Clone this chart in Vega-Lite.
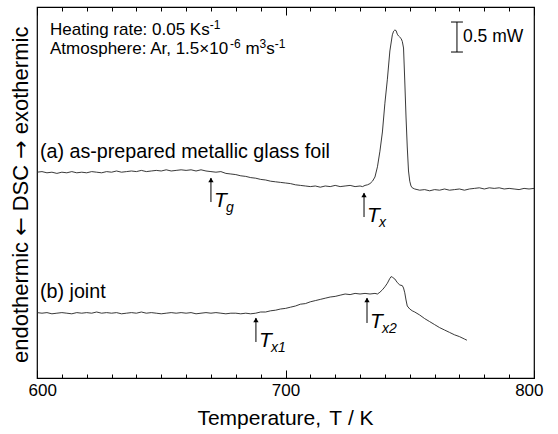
{
  "$schema": "https://vega.github.io/schema/vega-lite/v6.json",
  "width": 497,
  "height": 371,
  "autosize": {"type": "none"},
  "padding": {"left": 37, "top": 7, "right": 24, "bottom": 56},
  "background": "white",
  "config": {
    "font": "Liberation Sans",
    "view": {"stroke": "#000", "strokeWidth": 1.2},
    "axis": {"labelFont": "Liberation Sans", "titleFont": "Liberation Sans", "titleFontWeight": "normal", "labelColor": "#000", "titleColor": "#000", "tickColor": "#000", "tickWidth": 1}
  },
  "datasets": {
    "curves": [
      {"s":"a","T":600,"v":3.43},{"s":"a","T":602,"v":3.44},{"s":"a","T":604,"v":3.42},{"s":"a","T":606,"v":3.43},{"s":"a","T":608,"v":3.41},{"s":"a","T":610,"v":3.43},{"s":"a","T":612,"v":3.42},{"s":"a","T":614,"v":3.44},{"s":"a","T":616,"v":3.42},{"s":"a","T":618,"v":3.43},{"s":"a","T":620,"v":3.42},{"s":"a","T":622,"v":3.44},{"s":"a","T":624,"v":3.43},{"s":"a","T":626,"v":3.42},{"s":"a","T":628,"v":3.44},{"s":"a","T":630,"v":3.43},{"s":"a","T":632,"v":3.45},{"s":"a","T":634,"v":3.43},{"s":"a","T":636,"v":3.44},{"s":"a","T":638,"v":3.45},{"s":"a","T":640,"v":3.44},{"s":"a","T":642,"v":3.46},{"s":"a","T":644,"v":3.44},{"s":"a","T":646,"v":3.45},{"s":"a","T":648,"v":3.46},{"s":"a","T":650,"v":3.45},{"s":"a","T":652,"v":3.47},{"s":"a","T":654,"v":3.45},{"s":"a","T":656,"v":3.46},{"s":"a","T":658,"v":3.47},{"s":"a","T":660,"v":3.46},{"s":"a","T":662,"v":3.47},{"s":"a","T":664,"v":3.45},{"s":"a","T":666,"v":3.47},{"s":"a","T":668,"v":3.45},{"s":"a","T":670,"v":3.44},{"s":"a","T":672,"v":3.43},{"s":"a","T":674,"v":3.44},{"s":"a","T":676,"v":3.41},{"s":"a","T":678,"v":3.40},{"s":"a","T":680,"v":3.39},{"s":"a","T":682,"v":3.37},{"s":"a","T":684,"v":3.36},{"s":"a","T":686,"v":3.34},{"s":"a","T":688,"v":3.33},{"s":"a","T":690,"v":3.31},{"s":"a","T":692,"v":3.30},{"s":"a","T":694,"v":3.28},{"s":"a","T":696,"v":3.27},{"s":"a","T":698,"v":3.26},{"s":"a","T":700,"v":3.25},{"s":"a","T":702,"v":3.24},{"s":"a","T":704,"v":3.22},{"s":"a","T":706,"v":3.21},{"s":"a","T":708,"v":3.20},{"s":"a","T":710,"v":3.19},{"s":"a","T":712,"v":3.20},{"s":"a","T":714,"v":3.18},{"s":"a","T":716,"v":3.20},{"s":"a","T":718,"v":3.19},{"s":"a","T":720,"v":3.21},{"s":"a","T":722,"v":3.19},{"s":"a","T":724,"v":3.20},{"s":"a","T":726,"v":3.21},{"s":"a","T":728,"v":3.19},{"s":"a","T":730,"v":3.20},{"s":"a","T":731,"v":3.19},{"s":"a","T":732,"v":3.21},{"s":"a","T":733,"v":3.22},{"s":"a","T":734,"v":3.24},{"s":"a","T":735,"v":3.28},{"s":"a","T":736,"v":3.35},{"s":"a","T":737,"v":3.52},{"s":"a","T":738,"v":3.78},{"s":"a","T":739,"v":4.10},{"s":"a","T":740,"v":4.58},{"s":"a","T":741,"v":4.98},{"s":"a","T":742,"v":5.45},{"s":"a","T":743,"v":5.72},{"s":"a","T":743.5,"v":5.78},{"s":"a","T":744,"v":5.80},{"s":"a","T":744.5,"v":5.79},{"s":"a","T":745,"v":5.73},{"s":"a","T":745.5,"v":5.70},{"s":"a","T":746,"v":5.68},{"s":"a","T":746.5,"v":5.66},{"s":"a","T":747,"v":5.61},{"s":"a","T":747.5,"v":5.50},{"s":"a","T":748,"v":4.95},{"s":"a","T":748.5,"v":4.35},{"s":"a","T":749,"v":3.85},{"s":"a","T":749.5,"v":3.45},{"s":"a","T":750,"v":3.28},{"s":"a","T":750.5,"v":3.20},{"s":"a","T":751,"v":3.17},{"s":"a","T":752,"v":3.15},{"s":"a","T":754,"v":3.13},{"s":"a","T":756,"v":3.14},{"s":"a","T":758,"v":3.12},{"s":"a","T":760,"v":3.14},{"s":"a","T":762,"v":3.13},{"s":"a","T":764,"v":3.15},{"s":"a","T":766,"v":3.13},{"s":"a","T":768,"v":3.14},{"s":"a","T":770,"v":3.15},{"s":"a","T":772,"v":3.13},{"s":"a","T":774,"v":3.15},{"s":"a","T":776,"v":3.16},{"s":"a","T":778,"v":3.17},{"s":"a","T":780,"v":3.15},{"s":"a","T":782,"v":3.17},{"s":"a","T":784,"v":3.16},{"s":"a","T":786,"v":3.17},{"s":"a","T":788,"v":3.15},{"s":"a","T":790,"v":3.16},{"s":"a","T":792,"v":3.15},{"s":"a","T":794,"v":3.14},{"s":"a","T":796,"v":3.16},{"s":"a","T":798,"v":3.15},{"s":"a","T":800,"v":3.16},
      {"s":"b","T":600,"v":1.09},{"s":"b","T":602,"v":1.08},{"s":"b","T":604,"v":1.09},{"s":"b","T":606,"v":1.07},{"s":"b","T":608,"v":1.08},{"s":"b","T":610,"v":1.09},{"s":"b","T":612,"v":1.08},{"s":"b","T":614,"v":1.07},{"s":"b","T":616,"v":1.09},{"s":"b","T":618,"v":1.08},{"s":"b","T":620,"v":1.09},{"s":"b","T":622,"v":1.08},{"s":"b","T":624,"v":1.10},{"s":"b","T":626,"v":1.08},{"s":"b","T":628,"v":1.09},{"s":"b","T":630,"v":1.08},{"s":"b","T":632,"v":1.09},{"s":"b","T":634,"v":1.07},{"s":"b","T":636,"v":1.08},{"s":"b","T":638,"v":1.09},{"s":"b","T":640,"v":1.08},{"s":"b","T":642,"v":1.10},{"s":"b","T":644,"v":1.08},{"s":"b","T":646,"v":1.09},{"s":"b","T":648,"v":1.08},{"s":"b","T":650,"v":1.07},{"s":"b","T":652,"v":1.08},{"s":"b","T":654,"v":1.09},{"s":"b","T":656,"v":1.08},{"s":"b","T":658,"v":1.09},{"s":"b","T":660,"v":1.08},{"s":"b","T":662,"v":1.09},{"s":"b","T":664,"v":1.07},{"s":"b","T":666,"v":1.08},{"s":"b","T":668,"v":1.09},{"s":"b","T":670,"v":1.08},{"s":"b","T":672,"v":1.09},{"s":"b","T":674,"v":1.08},{"s":"b","T":676,"v":1.07},{"s":"b","T":678,"v":1.08},{"s":"b","T":680,"v":1.08},{"s":"b","T":682,"v":1.07},{"s":"b","T":684,"v":1.08},{"s":"b","T":686,"v":1.07},{"s":"b","T":688,"v":1.08},{"s":"b","T":690,"v":1.10},{"s":"b","T":692,"v":1.10},{"s":"b","T":694,"v":1.12},{"s":"b","T":696,"v":1.13},{"s":"b","T":698,"v":1.15},{"s":"b","T":700,"v":1.16},{"s":"b","T":702,"v":1.18},{"s":"b","T":704,"v":1.20},{"s":"b","T":706,"v":1.23},{"s":"b","T":708,"v":1.24},{"s":"b","T":710,"v":1.27},{"s":"b","T":712,"v":1.29},{"s":"b","T":714,"v":1.31},{"s":"b","T":716,"v":1.33},{"s":"b","T":718,"v":1.35},{"s":"b","T":720,"v":1.36},{"s":"b","T":722,"v":1.38},{"s":"b","T":724,"v":1.40},{"s":"b","T":726,"v":1.39},{"s":"b","T":728,"v":1.41},{"s":"b","T":730,"v":1.40},{"s":"b","T":732,"v":1.41},{"s":"b","T":734,"v":1.40},{"s":"b","T":736,"v":1.41},{"s":"b","T":737,"v":1.40},{"s":"b","T":738,"v":1.43},{"s":"b","T":739,"v":1.47},{"s":"b","T":740,"v":1.52},{"s":"b","T":741,"v":1.58},{"s":"b","T":742,"v":1.66},{"s":"b","T":742.5,"v":1.69},{"s":"b","T":743,"v":1.68},{"s":"b","T":744,"v":1.65},{"s":"b","T":745,"v":1.59},{"s":"b","T":746,"v":1.55},{"s":"b","T":747,"v":1.54},{"s":"b","T":747.5,"v":1.50},{"s":"b","T":748,"v":1.42},{"s":"b","T":748.5,"v":1.30},{"s":"b","T":749,"v":1.20},{"s":"b","T":750,"v":1.15},{"s":"b","T":751,"v":1.12},{"s":"b","T":752,"v":1.10},{"s":"b","T":754,"v":1.05},{"s":"b","T":756,"v":0.99},{"s":"b","T":758,"v":0.94},{"s":"b","T":760,"v":0.89},{"s":"b","T":762,"v":0.84},{"s":"b","T":764,"v":0.80},{"s":"b","T":766,"v":0.76},{"s":"b","T":768,"v":0.72},{"s":"b","T":770,"v":0.69},{"s":"b","T":772,"v":0.65},{"s":"b","T":773,"v":0.63}
    ],
    "arrows": [
      {"T":670.0,"top":3.333,"bottom":2.933,"sub":"g"},
      {"T":731.6,"top":3.083,"bottom":2.683,"sub":"x"},
      {"T":688.1,"top":1.0,"bottom":0.6,"sub":"x1"},
      {"T":732.8,"top":1.333,"bottom":0.917,"sub":"x2"}
    ],
    "header": [
      {"T":605.23,"v":5.717,"text":"Heating rate: 0.05 Ks"},
      {"T":605.23,"v":5.40,"text":"Atmosphere: Ar, 1.5×10"},
      {"T":683.86,"v":5.40,"text":"m"},
      {"T":692.28,"v":5.40,"text":"s"}
    ],
    "sups": [
      {"T":669.50,"v":5.817,"text":"-1"},
      {"T":677.67,"v":5.50,"text":"-6"},
      {"T":689.58,"v":5.50,"text":"3"},
      {"T":695.69,"v":5.50,"text":"-1"}
    ],
    "scaletext": [
      {"T":771.43,"v":5.683,"text":"0.5 mW"}
    ],
    "curvelabels": [
      {"T":601.2,"v":3.667,"text":"(a) as-prepared metallic glass foil"},
      {"T":601.2,"v":1.333,"text":"(b) joint"}
    ],
    "xtitle": [
      {"T":664.55,"v":-0.783,"text":"Temperature,","style":"normal"},
      {"T":717.63,"v":-0.783,"text":"T","style":"italic"},
      {"T":725.11,"v":-0.783,"text":"/ K","style":"normal"}
    ],
    "ytitle": [
      {"T":596.38,"v":0.25,"text":"endothermic"},
      {"T":596.38,"v":2.778,"text":"DSC"},
      {"T":596.38,"v":4.063,"text":"exothermic"}
    ],
    "yarrows": [
      {"T":596.38,"v":2.370,"text":"←"},
      {"T":596.38,"v":3.655,"text":"→"}
    ],
    "scalebar": [
      {"x":769.0,"x2":769.0,"y":5.933,"y2":5.433},
      {"x":766.6,"x2":771.4,"y":5.933,"y2":5.933},
      {"x":766.6,"x2":771.4,"y":5.433,"y2":5.433}
    ]
  },
  "resolve": {"axis": {"x": "independent", "y": "independent"}},
  "layer": [
    {
      "data": {"name": "curves"},
      "mark": {"type": "line", "color": "#222", "strokeWidth": 0.9},
      "encoding": {
        "x": {"field": "T", "type": "quantitative", "scale": {"domain": [600, 800], "nice": false, "zero": false},
          "axis": {"orient": "bottom", "values": [600,610,620,630,640,650,660,670,680,690,700,710,720,730,740,750,760,770,780,790,800],
            "labelExpr": "datum.value % 100 === 0 ? datum.label : ''", "format": "d",
            "tickSize": -4, "domain": false, "grid": false, "labelFontSize": 17, "labelPadding": 8, "labelFlush": true, "labelFlushOffset": 9,
            "title": null}},
        "y": {"field": "v", "type": "quantitative", "scale": {"domain": [0, 6.1833], "nice": false, "zero": false}, "axis": null},
        "detail": {"field": "s"}
      }
    },
    {
      "data": {"name": "arrows"},
      "mark": {"type": "rule", "color": "#000", "strokeWidth": 1},
      "encoding": {
        "x": {"field": "T", "type": "quantitative",
          "axis": {"orient": "top", "values": [600,610,620,630,640,650,660,670,680,690,700,710,720,730,740,750,760,770,780,790,800],
            "labels": false, "title": null, "domain": false, "grid": false, "tickSize": -4}},
        "y": {"field": "top", "type": "quantitative", "axis": null},
        "y2": {"field": "bottom"}
      }
    },
    {
      "data": {"name": "arrows"},
      "mark": {"type": "point", "shape": "triangle-up", "filled": true, "color": "#000", "size": 28, "opacity": 1, "yOffset": 2},
      "encoding": {
        "x": {"field": "T", "type": "quantitative",
          "axis": {"orient": "bottom", "values": [600,700,800], "labels": false, "title": null, "domain": false, "grid": false, "tickSize": -8}},
        "y": {"field": "top", "type": "quantitative", "axis": null}
      }
    },
    {
      "data": {"name": "arrows"},
      "mark": {"type": "text", "align": "left", "baseline": "middle", "fontStyle": "italic", "fontSize": 21, "dx": 3, "dy": -1, "color": "#000"},
      "encoding": {
        "x": {"field": "T", "type": "quantitative",
          "axis": {"orient": "top", "values": [600,700,800], "labels": false, "title": null, "domain": false, "grid": false, "tickSize": -8}},
        "y": {"field": "bottom", "type": "quantitative", "axis": null},
        "text": {"value": "T"}
      }
    },
    {
      "data": {"name": "arrows"},
      "mark": {"type": "text", "align": "left", "baseline": "middle", "fontStyle": "italic", "fontSize": 14, "dx": 15, "dy": 6, "color": "#000"},
      "encoding": {
        "x": {"field": "T", "type": "quantitative", "axis": null},
        "y": {"field": "bottom", "type": "quantitative", "axis": null},
        "text": {"field": "sub"}
      }
    },
    {
      "data": {"name": "header"},
      "mark": {"type": "text", "align": "left", "baseline": "alphabetic", "fontSize": 17, "color": "#000"},
      "encoding": {
        "x": {"field": "T", "type": "quantitative", "axis": null},
        "y": {"field": "v", "type": "quantitative", "axis": null},
        "text": {"field": "text"}
      }
    },
    {
      "data": {"name": "sups"},
      "mark": {"type": "text", "align": "left", "baseline": "alphabetic", "fontSize": 12, "color": "#000"},
      "encoding": {
        "x": {"field": "T", "type": "quantitative", "axis": null},
        "y": {"field": "v", "type": "quantitative", "axis": null},
        "text": {"field": "text"}
      }
    },
    {
      "data": {"name": "scaletext"},
      "mark": {"type": "text", "align": "left", "baseline": "middle", "fontSize": 17.5, "color": "#000"},
      "encoding": {
        "x": {"field": "T", "type": "quantitative", "axis": null},
        "y": {"field": "v", "type": "quantitative", "axis": null},
        "text": {"field": "text"}
      }
    },
    {
      "data": {"name": "curvelabels"},
      "mark": {"type": "text", "align": "left", "baseline": "alphabetic", "fontSize": 19.7, "color": "#000"},
      "encoding": {
        "x": {"field": "T", "type": "quantitative", "axis": null},
        "y": {"field": "v", "type": "quantitative", "axis": null},
        "text": {"field": "text"}
      }
    },
    {
      "data": {"name": "xtitle"},
      "mark": {"type": "text", "align": "left", "baseline": "alphabetic", "fontSize": 21, "color": "#000"},
      "encoding": {
        "x": {"field": "T", "type": "quantitative", "axis": null},
        "y": {"field": "v", "type": "quantitative", "axis": null},
        "text": {"field": "text"},
        "fontStyle": {"field": "style", "type": "nominal", "scale": null, "legend": null}
      }
    },
    {
      "data": {"name": "ytitle"},
      "mark": {"type": "text", "align": "left", "baseline": "alphabetic", "angle": 270, "fontSize": 22, "color": "#000"},
      "encoding": {
        "x": {"field": "T", "type": "quantitative", "axis": null},
        "y": {"field": "v", "type": "quantitative", "axis": null},
        "text": {"field": "text"}
      }
    },
    {
      "data": {"name": "yarrows"},
      "mark": {"type": "text", "align": "left", "baseline": "alphabetic", "angle": 270, "fontSize": 22, "font": "DejaVu Sans", "color": "#000"},
      "encoding": {
        "x": {"field": "T", "type": "quantitative", "axis": null},
        "y": {"field": "v", "type": "quantitative", "axis": null},
        "text": {"field": "text"}
      }
    },
    {
      "data": {"name": "scalebar"},
      "mark": {"type": "rule", "color": "#000", "strokeWidth": 1},
      "encoding": {
        "x": {"field": "x", "type": "quantitative", "axis": null},
        "x2": {"field": "x2"},
        "y": {"field": "y", "type": "quantitative", "axis": null},
        "y2": {"field": "y2"}
      }
    }
  ]
}
